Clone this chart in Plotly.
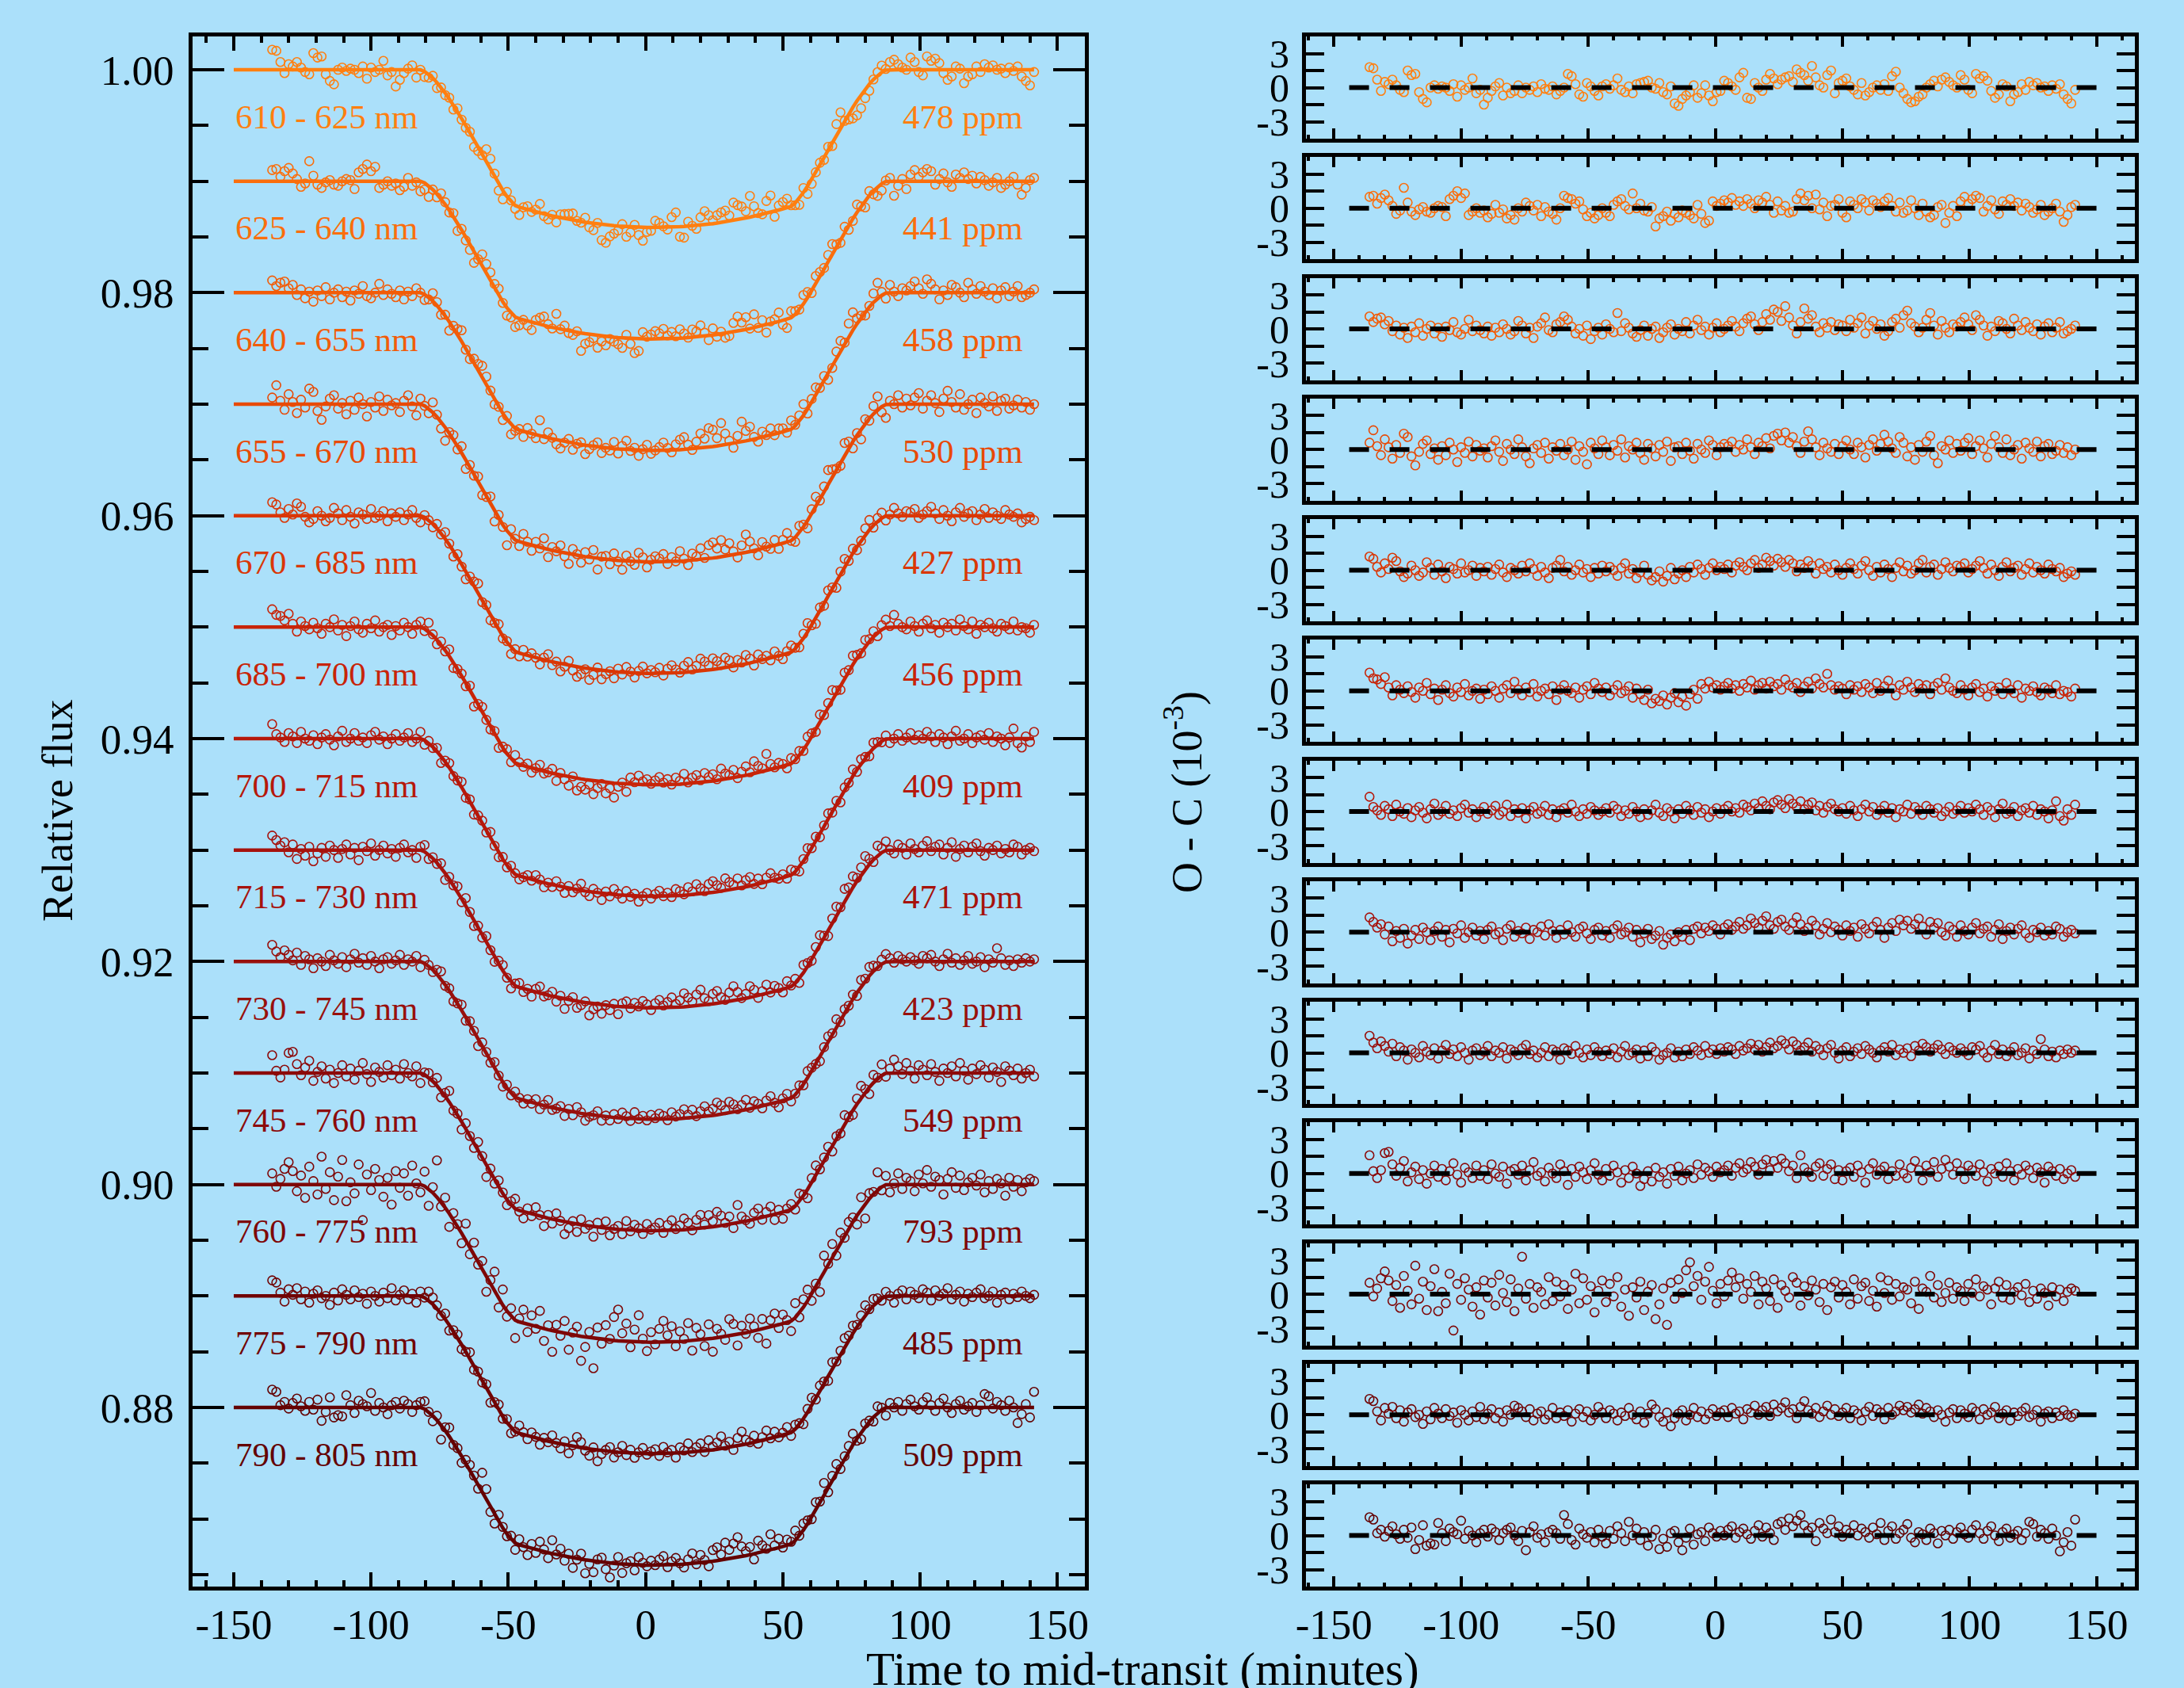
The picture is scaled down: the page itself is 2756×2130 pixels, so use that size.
import plotly.graph_objects as go

# ---------------- figure geometry ----------------
W, H = 2756, 2130
BG = "#ABE0FA"
FONT = "Liberation Serif"

# ---------------- data ----------------
T_START = -136.0          # first exposure (minutes to mid-transit)
CADENCE = 1.5             # minutes between exposures
MODEL_LINE_START = -150.0 # model curve drawn from here

BANDS = ["610 - 625 nm", "625 - 640 nm", "640 - 655 nm", "655 - 670 nm",
         "670 - 685 nm", "685 - 700 nm", "700 - 715 nm", "715 - 730 nm",
         "730 - 745 nm", "745 - 760 nm", "760 - 775 nm", "775 - 790 nm",
         "790 - 805 nm"]
RMS_PPM = [478, 441, 458, 530, 427, 456, 409, 471, 423, 549, 793, 485, 509]
BASELINES = [1.00, 0.99, 0.98, 0.97, 0.96, 0.95, 0.94, 0.93, 0.92, 0.91, 0.90, 0.89, 0.88]
COLORS = ["#FF7F10", "#FA6E0C", "#F25C08", "#E84A06", "#DA3705", "#C82408",
          "#B6180A", "#A6120C", "#98100C", "#8C0A0A", "#7E0707", "#710404", "#640202"]

# transit model (flux deficit, ppm) for exposures 37 .. 149; zero outside
MODEL_PRE_ZEROS = 37
MODEL_IN_TRANSIT_PPM = [
    146, 406, 741, 1140, 1585, 2076, 2605, 3166, 3757, 4371, 5005, 5656,
    6317, 6985, 7656, 8322, 8979, 9620, 10234, 10818, 11352, 11810, 12176,
    12325, 12435, 12542, 12645, 12745, 12841, 12934, 13023, 13110, 13192, 13271,
    13347, 13420, 13489, 13554, 13616, 13675, 13730, 13782, 13831, 13876, 13917,
    13955, 13990, 14022, 14049, 14074, 14095, 14113, 14127, 14138, 14145, 14149,
    14150, 14147, 14141, 14131, 14118, 14101, 14081, 14058, 14031, 14001, 13967,
    13930, 13890, 13846, 13799, 13748, 13694, 13636, 13575, 13511, 13443, 13372,
    13297, 13219, 13137, 13053, 12964, 12872, 12777, 12679, 12577, 12471, 12362,
    12250, 11948, 11513, 11002, 10433, 9829, 9195, 8542, 7879, 7209, 6540, 5876,
    5221, 4581, 3959, 3360, 2789, 2249, 1744, 1283, 867, 508, 226, 27]

# residuals (O - C) in units of 1e-4, one list per channel
RES_1 = [18, 17, 7, -3, 5, 3, 7, 2, -2, -4, 15, 11, 12, -4, -10, -13, 0, 2, -1, 1, 0, -3, 3, -8, 2, -2, 0, 8, -5, -2, -15,
         -9, -3, 1, 4, -7, 0, -5, -3, 2, -5, 0, -2, 1, -4, 3, -1, -2, 1, -6, -3, 0, 12, 10, 3, -6, -8, 4, 1, -3, -7, 1,
         3, -1, 2, 8, -2, -4, 1, -5, 3, 4, 5, 6, 0, -1, 4, -4, -6, 1, -14, -16, -10, -7, -4, 2, -9, -5, 2, -7, -12, -4, -3,
         6, 4, 1, -2, 9, 13, -9, -10, 4, 0, -3, 7, 12, 8, 3, 7, 9, 10, 5, 16, 13, 11, 6, 19, 9, 2, 0, 11, 15, -5, 4,
         6, 8, 1, -2, -6, 4, -7, -4, 0, 2, -2, 3, -3, 10, 14, 0, -5, -10, -13, -12, -8, -6, 0, 3, 6, 1, 7, 9, 5, 2, 0,
         11, 7, -2, -5, 12, 8, 10, 6, -3, -9, -6, 3, 1, -12, -6, -4, 3, -2, 5, 2, 4, 0, 1, -3, 2, -1, 3, -6, -10, -14, -2]
RES_2 = [10, 11, 4, 9, 12, 7, 2, -5, -2, 18, 5, -3, -6, -1, 1, -3, -4, 0, 2, 1, -7, 8, 11, 15, 9, 13, -6, -3, 0, -4, -2,
         -8, -5, 3, -4, -1, -9, -6, -10, 0, -3, 5, 2, -2, 3, -7, 1, -3, -5, -10, 0, 11, 9, 8, 4, 6, -1, -7, -4, -9, -6, 0,
         -4, -7, 3, 6, 8, 2, -1, 13, 0, 4, -2, -3, 1, -16, -9, -7, -3, -11, -5, -8, -2, -4, -6, -9, 3, -5, -13, -11, 6, 2, 4,
         7, 5, 9, 3, 6, 2, 8, 4, 0, 7, 5, 10, 3, -4, 6, -2, 2, -4, -3, 8, 13, 7, 11, 0, 12, -1, 5, -7, 2, 3, 8,
         -4, -8, 6, 3, 0, 8, 5, -2, 7, 4, 1, 6, 9, 2, -3, 5, -4, -2, 7, 0, -6, 4, -3, -8, -6, 1, 3, -13, -4, 2, -7,
         6, 10, 4, 8, 11, 9, -3, 2, 7, -1, -5, 6, 3, 8, 2, 5, -2, 4, 1, -4, -1, 3, -6, -3, 0, 4, -3, -12, -6, 1, 3]
RES_3 = [11, 6, 9, 10, 4, 7, -2, 3, -5, 1, -8, 2, -3, 5, -6, 0, 3, -4, 1, -7, 2, -1, 6, -3, -5, 0, 8, -2, 3, -1, -4,
         2, -6, 1, -3, 4, 0, -5, -2, 7, 3, -4, 1, -8, 2, 5, 10, -1, -3, 4, 6, 11, 8, 2, -4, 0, -6, 3, -9, -2, 1, -5,
         4, 0, -3, 14, -2, 5, 1, -4, -7, -1, 3, -6, 0, 2, -8, -3, 1, 4, -5, 0, -2, 6, -4, 3, 8, -1, 2, -5, 1, 5, -3,
         0, 3, 7, 2, -2, 5, 9, 11, 4, -1, 6, 13, 8, 17, 15, 7, 20, 10, 3, -4, 6, 18, 9, 12, 2, -3, 5, 1, 6, -1, 4,
         3, -2, 8, 1, 5, 10, -4, 3, 7, 0, 4, -6, -2, 6, 9, 1, 12, 16, 5, 2, -3, 1, 8, 14, 3, -5, 7, 1, -3, 4, 2,
         6, 10, 4, -1, 12, 8, 3, -6, 2, -2, 7, 5, 0, -4, 9, 3, -1, 6, 1, -2, 4, -5, 2, 5, -3, 1, 6, -4, -2, 0, 3]
RES_4 = [6, 17, 3, -5, 9, 2, -8, 4, -3, 14, 11, -6, -14, -2, 5, 8, -4, 1, -9, 3, -5, 6, 0, -11, 2, -3, 7, -6, 4, -1, 1,
         -7, 3, 8, -2, -10, 5, 0, -4, 9, 2, -6, -12, 1, 4, -3, 6, -8, 2, -1, 5, -5, 0, 7, -9, 3, -2, -13, 6, 1, -4, 8,
         2, -5, 4, -1, 9, -7, 3, 0, 6, -3, -9, 5, 1, -6, 4, -2, 7, -10, 2, 3, -4, 6, -1, -8, 5, 0, -3, 8, 4, -5, 2,
         5, 3, 7, -2, 4, 0, 9, 2, -4, 6, 3, 10, 1, 12, 14, 8, 15, 6, 11, 3, -3, 7, 16, 9, 2, -5, 6, 1, -2, 5, -4,
         3, 8, 0, -4, 6, 2, -7, 4, 9, -1, 5, 13, 7, 1, -3, 11, 6, -6, 2, -9, 4, -2, 7, 12, -5, -12, 3, 0, 8, -3, 5,
         -1, 6, 10, -4, 3, 8, 1, -7, 5, 12, 2, -3, 9, -5, 0, 4, -8, 6, 1, -2, 7, -6, 3, 5, -4, -1, 4, -3, 2, -5, 0]
RES_5 = [12, 10, 3, -2, 6, 1, 11, 8, -1, -6, -3, 4, 0, -5, -2, 7, 2, -4, 5, -1, -7, 3, 1, -3, 6, -2, 0, 4, -5, 2, -1,
         3, -4, 1, 5, -2, -6, 2, 0, -3, 4, -1, 6, 1, -5, 3, -2, -7, 2, 4, 9, -1, 3, -4, 0, 5, -2, 1, -6, 2, -3, 4,
         -1, 3, 0, -5, 2, 6, -3, 1, -7, -2, 4, -4, -9, -6, -1, -10, -5, 2, -8, -3, 0, -6, 3, -2, 5, 1, -4, 2, 6, 0, 3,
         1, 5, -2, 4, 7, 3, 0, 6, 9, 2, 5, 11, 8, 4, 10, 7, 3, 9, 6, -1, 5, 2, 8, 4, -3, 6, 1, 3, -2, 5, 0,
         -4, 2, 6, 1, -3, 4, 8, 0, -5, 3, -2, 5, 1, -6, 2, 7, -1, 4, -3, 0, 6, 9, -2, 3, 5, -4, 1, 7, 2, -1, 4,
         3, 6, -2, 1, 4, 8, 2, -3, 5, 0, -5, 3, 7, -1, 2, 4, -4, 1, 6, -2, 3, 0, -3, 5, 1, -1, 2, -6, -3, -1, -4]
RES_6 = [16, 11, 10, 6, 12, 3, -4, 5, 1, -2, 4, -1, -6, 3, 0, 7, -3, 2, -8, 1, 5, -2, -5, 3, -1, 6, -4, 0, 2, -7, 1,
         -3, 4, 0, -6, 2, 5, -2, 8, 1, -4, 3, -1, 6, -5, 0, 2, -3, 4, -8, 1, 5, 0, -2, 3, -6, 1, 4, -3, 7, 2, -1,
         3, -4, 1, 5, -2, 0, 4, -6, 2, -3, -8, 1, -11, -7, -9, -4, -12, -6, -2, -10, -5, -13, -3, 1, -7, 6, 2, 8, 3, 5, 1,
         4, 7, 2, 5, 0, 6, 3, 9, 1, 5, 7, 2, 8, 4, 6, 1, 10, 5, 3, 7, -1, 4, 8, 2, 11, 6, 3, 15, 5, 1, 4,
         2, -3, 5, 1, 4, -1, 6, 3, -2, 7, 0, 4, 9, 2, -4, 5, 1, 8, 3, -1, 6, 2, 5, -3, 4, 7, 1, 11, 3, 0, -2,
         5, 1, -4, 3, 6, -1, 2, -5, 4, 0, 3, -3, 7, 1, -2, 5, -6, 2, 0, 4, -1, -4, 3, 1, -2, 5, -3, 0, -1, -5, 2]
RES_7 = [13, 4, 1, -3, 5, 2, -4, 6, 0, -2, 3, -5, 1, 4, -1, -6, 2, 7, -3, 0, 5, -2, 1, -4, 3, 6, -1, 2, -5, 0, 4,
         -2, 1, 5, -3, 0, 6, -4, 2, -1, 3, -6, 1, 4, -2, 0, 5, -3, 2, -5, 1, 3, -1, 6, 0, -4, 2, -2, 4, 1, -3, 0,
         3, -1, 5, 2, -4, 1, -2, 4, 0, -5, 2, -3, 1, 6, -1, -4, 3, 0, -6, 2, -2, 5, 1, -3, 4, -1, 2, -5, 0, 3, -2,
         2, 5, 0, 3, -1, 6, 4, 1, 7, 3, 9, 5, 2, 8, 10, 6, 3, 11, 7, 4, 9, 2, 6, 8, 1, 5, -1, 4, 7, 2, 0,
         3, -2, 5, 1, -4, 2, 6, 0, 4, -3, 1, 5, -1, 3, -5, 2, 0, 6, -2, 4, 1, -3, 5, 2, -1, 3, -4, 0, 4, -2, 1,
         5, -1, 3, 0, 6, 2, -3, 4, 1, -5, 2, 7, -2, 0, 4, -4, 1, 3, -1, 5, -3, 2, 0, -6, 1, 9, -4, -8, 2, -3, 6]
RES_8 = [13, 9, 4, 7, -2, 5, -8, 1, -5, 3, -10, -3, 2, -6, 4, 0, -7, 1, 5, -4, 2, -9, 3, -1, 6, -5, 0, 4, -3, 1, -6,
         2, 5, -2, 0, -7, 3, 6, -4, 1, -1, 4, -6, 2, 0, 5, -3, 7, 1, -5, 2, -2, 6, 0, -4, 3, 5, -1, -6, 2, 4, -3,
         1, -5, 3, 6, -2, 0, 4, -4, 2, -9, -1, 3, -6, -3, 1, -11, -5, -2, -8, 0, -4, 2, -7, 3, 5, -1, 4, 1, 6, 3, -2,
         4, 7, 2, 5, 9, 3, 6, 12, 8, 4, 10, 14, 6, 3, 9, 11, 5, 2, 8, 13, 7, 1, 4, 10, 6, -2, 3, 8, 0, 5, 2,
         -3, 6, 1, 4, -4, 7, 3, -1, 5, 9, 2, -5, 4, 8, 1, 11, 6, 10, 3, 7, 12, 5, -2, 9, 4, 8, 0, -3, 5, 2, -4,
         6, 1, -2, 4, 8, -1, 3, 5, -4, 2, 7, -6, 1, 4, -2, 3, 6, -1, -5, 2, 0, 4, -3, 1, -2, 5, 3, -4, 0, 2, -1]
RES_9 = [15, 9, 4, 10, 6, 1, 8, -3, 5, 2, -6, 3, 0, -4, 6, 1, -2, 4, -5, 2, 7, -1, 3, -3, 5, 0, -6, 2, 4, -2, 1,
         6, -3, 2, 0, 5, -5, 3, 1, -2, 4, 7, -1, 2, -4, 0, 5, -3, 3, 1, -6, 4, 2, -1, 6, 0, -4, 3, -2, 5, 1, -3,
         2, -1, 4, -4, 1, 6, -2, 0, 3, -5, 2, -3, 5, 1, -6, -2, 0, 4, -4, 1, -3, 3, -1, 5, 2, -2, 6, 0, 3, -1, 4,
         1, 5, 3, -1, 6, 2, 4, 8, 3, 7, 1, 5, 9, 4, 6, 11, 8, 3, 10, 7, 2, 5, 9, 1, 6, 3, -2, 4, 7, 0, -5,
         2, 5, -3, 1, 4, -1, 6, 3, 0, -4, 2, 5, 1, 7, -2, 3, 0, 4, -3, 6, 2, 8, 5, 1, 4, 7, 3, -1, 5, 2, 0,
         4, 1, -2, 5, 3, 6, 0, -4, 2, 7, -1, 3, -3, 1, 5, -2, 0, 4, -5, 2, -1, 12, 3, -3, 1, -4, 2, -1, 3, 0, 2]
RES_10 = [16, 2, -4, 3, 18, 19, 8, -2, 5, 11, -7, 1, 6, -5, 3, -9, 0, 7, -3, 4, -6, 2, 9, -1, -8, 5, 1, -4, 7, -2, 3,
          -5, 8, 0, -3, 6, -9, 2, 4, -1, 7, -6, 3, 10, -2, 1, -7, 5, 0, -4, 8, 2, -10, 4, -3, 6, 1, -5, 3, 9, -1, -6,
          4, -2, 7, 1, -8, 3, -4, 6, 0, -11, -5, 2, -7, 5, -3, 1, -9, 4, -2, 6, -6, 0, 3, -4, 8, -1, 5, 2, -3, 6, 1,
          3, 7, -2, 5, 9, 1, 4, 10, 6, -1, 8, 12, 3, 11, 5, 13, 9, 2, 7, -4, 16, 5, 1, -3, 6, 9, -2, 4, 8, -5, 3,
          -6, 2, 5, -3, 7, 1, -8, 4, 9, -1, 3, 6, -5, 2, -2, 8, 0, -4, 5, 11, 3, -6, 7, 1, 10, -3, 4, 12, 6, -1, 9,
          2, -5, 7, 3, -2, 8, 1, -7, 4, 0, 6, -3, 9, 2, -6, 4, -1, 7, 3, -4, 5, 1, -8, 6, 2, -2, 4, -5, 0, 3, -3]
RES_11 = [10, -2, 5, 14, 20, 12, -6, 8, -12, 16, 3, -9, 25, -4, 11, -14, 7, 22, -15, 2, -8, 18, -32, 9, -5, 14, 4, -11, 6, -18, 12,
          -3, 10, -10, 17, 1, -7, 13, -15, 5, 33, -4, 9, -12, 6, 2, -9, 15, -6, 11, -2, 8, -13, 4, 18, -8, 14, -5, 7, -16, 3, 12,
          -7, 9, -2, 15, -11, 4, -19, 6, -3, 11, -14, 2, 8, -22, -9, 5, -27, 10, -4, 13, 1, 21, 28, 7, 16, -5, 11, 24, 3, -8, 9,
          -2, 12, 19, 6, 14, -4, 9, 2, 16, -9, 11, 5, -6, 13, -12, 8, 3, -3, 15, 10, -10, 7, -1, 12, 4, -7, 9, -14, 6, 11, -3,
          8, 2, -9, 13, -4, 7, 10, -6, 3, -11, 15, 1, 12, -5, 9, -2, 6, 4, -8, 11, -13, 5, 2, 16, -3, 8, -7, 1, 10, -4, 6,
          3, -6, 9, 1, 13, -2, 7, 4, -9, 5, 11, -3, 8, -5, 2, 6, -1, 9, -7, 3, -4, 5, 1, -10, 6, -2, 4, -6, 2, 5, 3]
RES_12 = [14, 12, 3, -5, 6, 1, 7, -3, 4, -6, 2, 5, -2, 0, -8, 3, -4, 6, 1, -3, 5, -1, 2, -7, 4, 0, -5, 3, -2, 7, -4,
          1, 5, -3, 2, -6, 4, 0, 8, 6, 3, -2, 5, -5, 1, 3, -4, 0, 6, -3, 2, -1, 4, -6, 1, 5, -2, 3, -5, 0, 7, 2,
          -3, 4, 1, -5, 2, -1, 6, 0, -4, 3, -7, 1, 9, 5, -2, -6, 2, -10, -3, 1, 4, -5, 0, 6, -2, 3, -4, 1, 5, -1, 2,
          4, -2, 6, 1, 3, -4, 5, 2, 8, 0, 4, 7, -1, 9, 3, 6, 11, 2, 5, -3, 7, 12, 4, 1, 6, -2, 3, 8, 0, 5, -1,
          2, 6, -3, 4, 1, -5, 3, 7, -1, 5, 2, -4, 6, 0, 3, 8, 4, 7, 2, 5, 9, 1, 6, 3, -2, 4, 0, -6, 2, 5, -3,
          4, 1, -2, 6, 3, -4, 5, 0, 2, 7, -3, 1, 4, -5, 2, -1, 3, 6, -2, 0, 4, -6, 1, 3, -3, 2, -1, 4, 0, -2, 1]
RES_13 = [16, 14, 2, 5, -1, 4, 8, 1, -3, 5, -2, 7, -12, -4, 9, -9, -7, -8, 11, 2, -5, 6, 3, 1, 13, -3, 4, 0, -6, 2, 5,
          -1, 6, 3, -4, 2, 5, 7, 0, -5, 4, -13, 3, 8, -2, 1, -6, 3, 5, 2, -3, 18, 10, -4, -8, 6, 1, -2, 3, -6, 5, -1,
          -7, 4, -3, 8, 2, -5, 12, 0, 6, -4, 3, -9, -1, 5, -12, -3, -10, 2, 4, -6, -13, -2, 6, -8, 1, 3, -5, 7, 2, -1, 4,
          0, 5, 8, -2, 3, 6, 1, -3, 4, 9, -1, 7, 2, -4, 10, 12, 5, 15, 8, 13, 18, 9, 4, 7, -5, 11, 6, 2, 14, 3, 8,
          -1, 5, 2, 9, 0, 6, 3, -2, 7, 1, 11, -4, 4, 8, -3, 2, 5, 10, -2, -6, 3, 1, -4, 6, 2, -7, 4, 0, 5, -3, 3,
          7, 1, -2, 5, 9, 2, -3, 4, 8, 0, -5, 3, 6, -2, 1, 4, -4, 2, 12, 10, -1, 5, 2, -3, 6, 0, -14, -6, 3, -9, 14]
RESIDUALS = [RES_1, RES_2, RES_3, RES_4, RES_5, RES_6, RES_7, RES_8, RES_9,
             RES_10, RES_11, RES_12, RES_13]

X_TICKS = [-150, -100, -50, 0, 50, 100, 150]
FLUX_TICKS = [0.88, 0.90, 0.92, 0.94, 0.96, 0.98, 1.00]
OC_TICKS = [-3, 0, 3]

# ---------------- layout geometry (pixels) ----------------
LEFT_X = (243, 1369)
LEFT_Y = (46, 2002)            # top, bottom
RIGHT_X = (1648, 2694)
PANEL_TOP0, PANEL_PITCH, PANEL_H = 46, 152.25, 129
LEFT_XRANGE = [-165, 160]
LEFT_YRANGE = [0.86393, 1.00299]
RIGHT_XRANGE = [-161, 165]
RIGHT_YRANGE = [-4.5, 4.5]


def fx(p):
    return p / W


def fy(p):
    return 1 - p / H


def model_for(n):
    m = [0] * MODEL_PRE_ZEROS + MODEL_IN_TRANSIT_PPM
    m = m + [0] * max(0, n - len(m))
    return m[:n]


fig = go.Figure()
annotations = []

for k in range(13):
    res = RESIDUALS[k]
    n = len(res)
    times = [T_START + CADENCE * i for i in range(n)]
    mod = model_for(n)
    base = BASELINES[k]
    col = COLORS[k]
    flux = [base - mod[i] * 1e-6 + res[i] * 1e-4 for i in range(n)]
    mod_flux = [base] + [base - mod[i] * 1e-6 for i in range(n)]
    mod_t = [MODEL_LINE_START] + times

    fig.add_trace(go.Scatter(x=times, y=flux, mode="markers", xaxis="x", yaxis="y",
                             marker=dict(symbol="circle-open", size=11, color=col,
                                         line=dict(width=1.6, color=col)),
                             hoverinfo="skip"))
    fig.add_trace(go.Scatter(x=mod_t, y=mod_flux, mode="lines", xaxis="x", yaxis="y",
                             line=dict(color=col, width=4.5), hoverinfo="skip"))

    annotations.append(dict(x=-150, y=base - 0.0042, xref="x", yref="y", text=BANDS[k],
                            showarrow=False, xanchor="left", yanchor="middle",
                            font=dict(family=FONT, size=43, color=col)))
    annotations.append(dict(x=93, y=base - 0.0042, xref="x", yref="y",
                            text=f"{RMS_PPM[k]} ppm",
                            showarrow=False, xanchor="left", yanchor="middle",
                            font=dict(family=FONT, size=43, color=col)))

    ax = str(k + 2)
    fig.add_trace(go.Scatter(x=times, y=[r * 0.1 for r in res], mode="markers",
                             xaxis="x" + ax, yaxis="y" + ax,
                             marker=dict(symbol="circle-open", size=11, color=col,
                                         line=dict(width=1.6, color=col)),
                             hoverinfo="skip"))
    fig.add_trace(go.Scatter(x=[-144, 151.5], y=[0, 0], mode="lines",
                             xaxis="x" + ax, yaxis="y" + ax,
                             line=dict(color="black", width=6, dash="25px,26px"),
                             hoverinfo="skip"))

common = dict(showgrid=False, zeroline=False, showline=True, linecolor="black",
              linewidth=5, mirror="ticks", ticks="inside", tickcolor="black",
              automargin=False)

layout = dict(width=W, height=H, margin=dict(l=0, r=0, t=0, b=0),
              paper_bgcolor=BG, plot_bgcolor=BG, showlegend=False,
              font=dict(family=FONT, color="black"))

layout["xaxis"] = dict(common, domain=[fx(LEFT_X[0]), fx(LEFT_X[1])], range=LEFT_XRANGE,
                       anchor="y", tickmode="array", tickvals=X_TICKS,
                       ticktext=[str(v) for v in X_TICKS], ticklen=18, tickwidth=4,
                       minor=dict(ticks="inside", tickmode="linear", tick0=0, dtick=10,
                                  ticklen=8, tickwidth=4, tickcolor="black"),
                       tickfont=dict(family=FONT, size=53), ticklabelstandoff=-3)
layout["yaxis"] = dict(common, domain=[fy(LEFT_Y[1]), fy(LEFT_Y[0])], range=LEFT_YRANGE,
                       anchor="x", tickmode="array", tickvals=FLUX_TICKS,
                       ticktext=[f"{v:.2f}" for v in FLUX_TICKS], ticklen=40, tickwidth=4,
                       minor=dict(ticks="inside", tickmode="linear", tick0=0.88, dtick=0.005,
                                  ticklen=20, tickwidth=4, tickcolor="black"),
                       tickfont=dict(family=FONT, size=53), ticklabelstandoff=8)

for k in range(13):
    ax = str(k + 2)
    top = PANEL_TOP0 + PANEL_PITCH * k
    bot = top + PANEL_H
    layout["xaxis" + ax] = dict(common, domain=[fx(RIGHT_X[0]), fx(RIGHT_X[1])],
                                range=RIGHT_XRANGE, anchor="y" + ax,
                                tickmode="array", tickvals=X_TICKS,
                                ticktext=[str(v) for v in X_TICKS],
                                showticklabels=(k == 12), ticklen=13, tickwidth=4,
                                minor=dict(ticks="inside", tickmode="linear", tick0=0, dtick=10,
                                           ticklen=5, tickwidth=4, tickcolor="black"),
                                tickfont=dict(family=FONT, size=53), ticklabelstandoff=-3)
    layout["yaxis" + ax] = dict(common, domain=[fy(bot), fy(top)], range=RIGHT_YRANGE,
                                anchor="x" + ax, tickmode="array", tickvals=OC_TICKS,
                                ticktext=[str(v) for v in OC_TICKS], ticklen=23, tickwidth=4,
                                minor=dict(ticks="inside", tickmode="linear", tick0=0, dtick=1.5,
                                           ticklen=23, tickwidth=4, tickcolor="black"),
                                tickfont=dict(family=FONT, size=50), ticklabelstandoff=6)

annotations.append(dict(x=fx(73), y=fy(1023), xref="paper", yref="paper",
                        text="Relative flux", textangle=-90, showarrow=False,
                        xanchor="center", yanchor="middle",
                        font=dict(family=FONT, size=54, color="black")))
annotations.append(dict(x=fx(1493), y=fy(999), xref="paper", yref="paper",
                        text="O - C (10<sup>-3</sup>)", textangle=-90, showarrow=False,
                        xanchor="center", yanchor="middle",
                        font=dict(family=FONT, size=54, color="black")))
annotations.append(dict(x=fx(1442), y=fy(2071), xref="paper", yref="paper",
                        text="Time to mid-transit (minutes)", showarrow=False,
                        xanchor="center", yanchor="top",
                        font=dict(family=FONT, size=59, color="black")))
layout["annotations"] = annotations

fig.update_layout(**layout)
fig.write_html("out.html",
               config={"displayModeBar": False},
               post_script="document.body.style.margin='0';"
                           "document.body.style.padding='0';"
                           "document.body.style.overflow='hidden';"
                           "document.documentElement.style.overflow='hidden';")
